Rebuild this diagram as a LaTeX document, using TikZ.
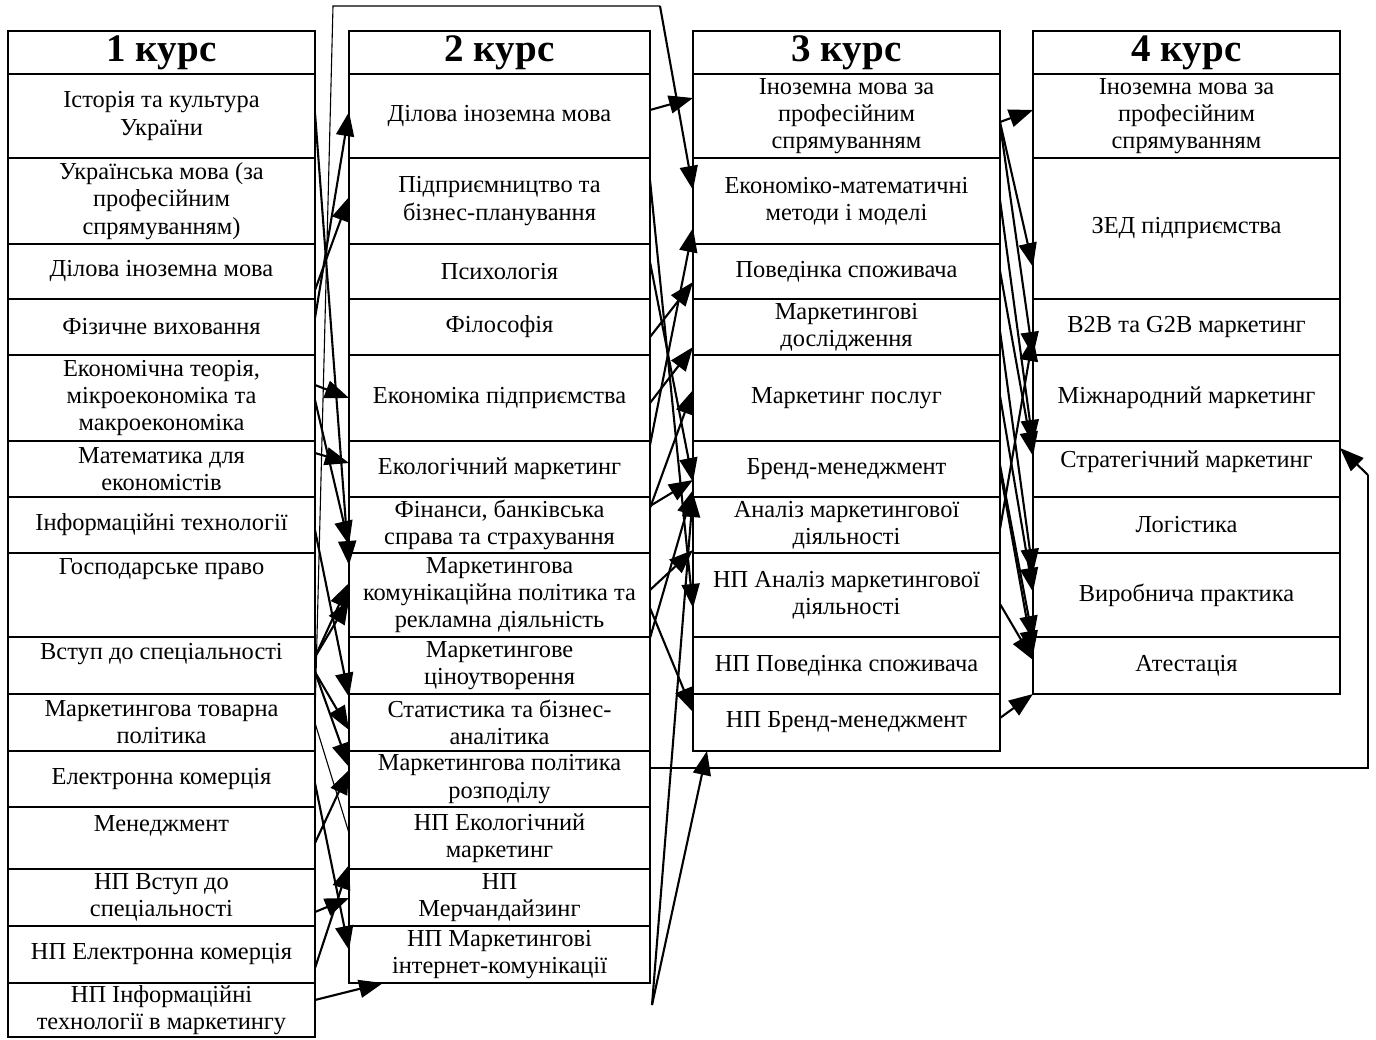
\documentclass[tikz,border=0pt]{standalone}
\usepackage{fontspec}
\setmainfont{Liberation Serif}
\usetikzlibrary{arrows.meta}
\newcommand\mkcell[7][]{%
  \pgfmathsetmacro\mkcx{(#3+#5)/2}%
  \pgfmathsetmacro\mkcy{(#4+#6)/2}%
  \pgfmathsetmacro\mkcw{(#5-#3)*0.5}%
  \pgfmathsetmacro\mkch{(#6-#4)*0.5}%
  \node[cell,#1,minimum width=\mkcw pt,minimum height=\mkch pt] (#2) at (\mkcx,\mkcy) {#7};}
\begin{document}
\begin{tikzpicture}[x=0.5pt,y=-0.5pt,
  cellfont/.style={font=\fontsize{12.2}{13.6}\selectfont},
  cell/.style={draw, line width=1pt, align=center, cellfont, inner sep=0pt, outer sep=0pt},
  ttl/.style={font=\fontsize{19.5}{21}\selectfont\bfseries},
  txt/.style={align=center, cellfont, inner sep=0pt},
  arr/.style={line width=1.05pt, -{Triangle[length=12pt,width=9pt]}},
  thinline/.style={line width=0.55pt}]
\useasboundingbox (0,0) rectangle (1376,1039);
\fill[white] (0,0) rectangle (1376,1039);

% ---------- column 1 ----------
\mkcell[ttl]{a0}{8}{31}{315}{74}{1 курс}
\mkcell{a1}{8}{74}{315}{158}{Історія та культура\\України}
\mkcell{a2}{8}{158}{315}{244}{Українська мова (за\\професійним\\спрямуванням)}
\mkcell{a3}{8}{244}{315}{299}{Ділова іноземна мова}
\mkcell{a4}{8}{299}{315}{355}{Фізичне виховання}
\mkcell{a5}{8}{355}{315}{441}{Економічна теорія,\\мікроекономіка та\\макроекономіка}
\mkcell{a6}{8}{441}{315}{497}{Математика для\\економістів}
\mkcell{a7}{8}{497}{315}{553}{Інформаційні технології}
\mkcell{a8}{8}{553}{315}{637}{}
\node[txt,anchor=north] (a8t) at ([yshift=-2.5pt]a8.north) {Господарське право};
\mkcell{a9}{8}{637}{315}{694}{}
\node[txt,anchor=north] (a9t) at ([yshift=-3pt]a9.north) {Вступ до спеціальності};
\mkcell{a10}{8}{694}{315}{751}{Маркетингова товарна\\політика}
\mkcell{a11}{8}{751}{315}{807}{Електронна комерція}
\mkcell{a12}{8}{807}{315}{869}{}
\node[txt,anchor=north] (a12t) at ([yshift=-4pt]a12.north) {Менеджмент};
\mkcell{a13}{8}{869}{315}{926}{НП Вступ до\\спеціальності}
\mkcell{a14}{8}{926}{315}{983}{НП Електронна комерція}
\mkcell{a15}{8}{983}{315}{1037}{НП Інформаційні\\технології в маркетингу}

% ---------- column 2 ----------
\mkcell[ttl]{b0}{349}{31}{650}{74}{2 курс}
\mkcell{b1}{349}{74}{650}{158}{Ділова іноземна мова}
\mkcell{b2}{349}{158}{650}{244}{Підприємництво та\\бізнес-планування}
\mkcell{b3}{349}{244}{650}{299}{Психологія}
\mkcell{b4}{349}{299}{650}{355}{Філософія}
\mkcell{b5}{349}{355}{650}{441}{Економіка підприємства}
\mkcell{b6}{349}{441}{650}{497}{Екологічний маркетинг}
\mkcell{b7}{349}{497}{650}{553}{Фінанси, банківська\\справа та страхування}
\mkcell{b8}{349}{553}{650}{637}{Маркетингова\\комунікаційна політика та\\рекламна діяльність}
\mkcell{b9}{349}{637}{650}{694}{Маркетингове\\ціноутворення}
\mkcell{b10}{349}{694}{650}{751}{Статистика та бізнес-\\аналітика}
\mkcell{b11}{349}{751}{650}{807}{Маркетингова політика\\розподілу}
\mkcell{b12}{349}{807}{650}{869}{НП Екологічний\\маркетинг}
\mkcell{b13}{349}{869}{650}{926}{НП\\Мерчандайзинг}
\mkcell{b14}{349}{926}{650}{983}{НП Маркетингові\\інтернет-комунікації}

% ---------- column 3 ----------
\mkcell[ttl]{c0}{693}{31}{1000}{74}{3 курс}
\mkcell{c1}{693}{74}{1000}{158}{Іноземна мова за\\професійним\\спрямуванням}
\mkcell{c2}{693}{158}{1000}{244}{Економіко-математичні\\методи і моделі}
\mkcell{c3}{693}{244}{1000}{299}{Поведінка споживача}
\mkcell{c4}{693}{299}{1000}{355}{Маркетингові\\дослідження}
\mkcell{c5}{693}{355}{1000}{441}{Маркетинг послуг}
\mkcell{c6}{693}{441}{1000}{497}{Бренд-менеджмент}
\mkcell{c7}{693}{497}{1000}{553}{Аналіз маркетингової\\діяльності}
\mkcell{c8}{693}{553}{1000}{637}{НП Аналіз маркетингової\\діяльності}
\mkcell{c9}{693}{637}{1000}{694}{НП Поведінка споживача}
\mkcell{c10}{693}{694}{1000}{751}{НП Бренд-менеджмент}

% ---------- column 4 ----------
\mkcell[ttl]{d0}{1033}{31}{1340}{74}{4 курс}
\mkcell{d1}{1033}{74}{1340}{158}{Іноземна мова за\\професійним\\спрямуванням}
\mkcell{d2}{1033}{158}{1340}{299}{ЗЕД підприємства}
\mkcell{d3}{1033}{299}{1340}{355}{B2B та G2B маркетинг}
\mkcell{d4}{1033}{355}{1340}{441}{Міжнародний маркетинг}
\mkcell{d5}{1033}{441}{1340}{497}{}
\node[txt,anchor=north] (d5t) at ([yshift=-4.5pt]d5.north) {Стратегічний маркетинг};
\mkcell{d6}{1033}{497}{1340}{553}{Логістика}
\mkcell{d7}{1033}{553}{1340}{637}{Виробнича практика}
\mkcell{d8}{1033}{637}{1340}{694}{Атестація}

% ---------- connectors column 1 -> column 2 ----------
\draw[arr] (a1.east|-0,113) -- (b8.west|-0,565);
\draw[arr] (a4.east|-0,318) -- (b1.west|-0,112);
\draw[arr] (a3.east|-0,290) -- (b2.west|-0,197);
\draw[arr] (a5.east|-0,385) -- (b5.west|-0,398);
\draw[arr] (a5.east|-0,400) -- (b7.west|-0,545);
\draw[arr] (a6.east|-0,453) -- (b6.west|-0,463);
\draw[arr] (a7.east|-0,530) -- (b10.west|-0,697);
\draw[arr] (a9.east|-0,657) -- (b8.west|-0,583);
\draw[arr] (a9.east|-0,657) -- (b8.west|-0,600);
\draw[arr] (a9.east|-0,672) -- (b10.west|-0,730);
\draw[arr] (a9.east|-0,672) -- (b11.west|-0,767);
\draw[thinline] (a10.east|-0,723) -- (b12.west|-0,833);
\draw[arr] (a11.east|-0,783) -- (b14.west|-0,950);
\draw[arr] (a12.east|-0,843) -- (b11.west|-0,770);
\draw[arr] (a13.east|-0,912) -- (b13.west|-0,898);
\draw[arr] (a14.east|-0,968) -- (b12.west|-0,865);
\draw[arr] (a15.east|-0,1000) -- (b14.south-|383,0);

% thin line over the top
\coordinate (tl) at (333,6);
\coordinate (tr) at (660,6);
\draw[thinline] (a10.east|-0,715) -- (tl) -- (tr);
\draw[arr] (tr) -- (c2.west|-0,190);

% ---------- connectors column 2 -> column 3 ----------
\draw[arr] (b1.east|-0,110) -- (c1.west|-0,98);
\draw[arr] (b2.east|-0,180) -- (c8.west|-0,608);
\draw[arr] (b3.east|-0,262) -- (c6.west|-0,482);
\draw[arr] (b6.east|-0,445) -- (c2.west|-0,228);
\draw[arr] (b4.east|-0,337) -- (c3.west|-0,282);
\draw[arr] (b5.east|-0,403) -- (c4.west|-0,347);
\draw[arr] (b7.east|-0,508) -- (c5.west|-0,390);
\draw[arr] (b7.east|-0,506) -- (c6.west|-0,480);
\draw[arr] (b8.east|-0,590) -- (c7.west|-0,550);
\draw[arr] (b9.east|-0,638) -- (c6.west|-0,490);
\draw[arr] (b8.east|-0,608) -- (c10.west|-0,712);
\coordinate (q) at (652,1005);
\draw[arr] (q) -- (c6.west|-0,493);
\draw[arr] (q) -- (c10.south-|707,0);

% ---------- connectors column 3 -> column 4 ----------
\draw[arr] (c1.east|-0,122) -- (d1.west|-0,110);
\draw[arr] (c1.east|-0,122) -- (d2.west|-0,267);
\draw[arr] (c1.east|-0,124) -- (d3.west|-0,356);
\draw[arr] (c2.east|-0,200) -- (d5.west|-0,444);
\draw[arr] (c3.east|-0,271) -- (d5.west|-0,456);
\draw[arr] (c4.east|-0,331) -- (d7.west|-0,573);
\draw[arr] (c5.east|-0,396) -- (d7.west|-0,592);
\draw[arr] (c6.east|-0,465) -- (d8.west|-0,640);
\draw[arr] (c6.east|-0,470) -- (d8.west|-0,655);
\draw[arr] (c7.east|-0,529) -- (d3.west|-0,337);
\draw[arr] (c8.east|-0,604) -- (d8.west|-0,660);
\draw[arr] (c10.east|-0,718) -- (d8.south west);

% ---------- loop on the right ----------
\coordinate (r1) at (1368,768);
\coordinate (r2) at (1368,475);
\draw[thinline] (b11.east|-0,768) -- (r1) -- (r2);
\draw[arr] (r2) -- (d5.east|-0,448);
\end{tikzpicture}
\end{document}
